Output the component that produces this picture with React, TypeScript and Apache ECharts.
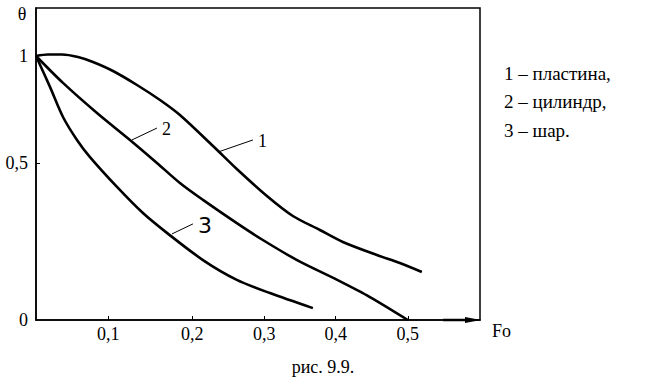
import { useEffect, useRef } from "react";
import * as echarts from "echarts";

// Curve 1 – plate
const foPlate = [0, 0.0161, 0.035, 0.0565, 0.0766, 0.1035, 0.1358, 0.1667, 0.1935, 0.238, 0.27, 0.3105, 0.3454, 0.3817, 0.4126, 0.4583, 0.4892, 0.5188];
const thetaPlate = [1, 1.0057, 1.0057, 0.9962, 0.9773, 0.9432, 0.8902, 0.8333, 0.7765, 0.6591, 0.572, 0.4697, 0.3939, 0.3409, 0.2955, 0.2462, 0.2159, 0.1818];
// Curve 2 – cylinder
const foCyl = [0, 0.0363, 0.082, 0.1263, 0.1626, 0.1935, 0.2245, 0.27, 0.305, 0.351, 0.405, 0.449, 0.5];
const thetaCyl = [1, 0.898, 0.784, 0.682, 0.595, 0.519, 0.455, 0.367, 0.303, 0.227, 0.152, 0.087, 0];
// Curve 3 – sphere
const foSph = [0, 0.0188, 0.0363, 0.0551, 0.0726, 0.1089, 0.1438, 0.176, 0.2245, 0.27, 0.3145, 0.3723];
const thetaSph = [1, 0.883, 0.769, 0.682, 0.617, 0.504, 0.405, 0.33, 0.227, 0.152, 0.102, 0.045];

// Axis ticks (axis values where the ticks sit) and their labels
const xTickValues = [0.0972, 0.21, 0.307, 0.403, 0.5];
const xTickLabels = ["0,1", "0,2", "0,3", "0,4", "0,5"];
const yTickValues = [0, 0.595, 1];
const yTickLabels = ["0", "0,5", "1"];

// Curve annotations: leader start, leader end, label
const curveLabels = ["1", "2", "3"];
const leaderFrom = [[0.2446, 0.636], [0.129, 0.682], [0.1828, 0.326]];
const leaderTo = [[0.2917, 0.682], [0.1626, 0.727], [0.211, 0.364]];

const legendLines = ["1 – пластина,", "2 – цилиндр,", "3 – шар."];
const caption = "рис. 9.9.";

const SERIF = "Liberation Serif";
const SANS = "DejaVu Sans";

function pairs(xs: number[], ys: number[]) {
  return xs.map((x, i) => [x, ys[i]]);
}

function pickLabel(v: number, vals: number[], labels: string[]) {
  let best = 0;
  for (let i = 1; i < vals.length; i++) {
    if (Math.abs(vals[i] - v) < Math.abs(vals[best] - v)) best = i;
  }
  return labels[best];
}

function txt(x: number, y: number, text: string, family: string, size: number, align = "left") {
  return {
    type: "text",
    x,
    y,
    style: {
      text,
      fill: "#000",
      fontFamily: family,
      fontSize: size,
      textAlign: align,
      textVerticalAlign: "middle",
    },
  };
}

export default function App() {
  const ref = useRef<HTMLDivElement>(null);
  useEffect(() => {
    if (!ref.current) return;
    document.body.style.margin = "0";
    const chart = echarts.init(ref.current, null, { renderer: "svg" });
    const lineSeries = (name: string, data: number[][]) => ({
      name,
      type: "line",
      data,
      smooth: 0.3,
      symbol: "none",
      lineStyle: { color: "#000", width: 2.6 },
    });
    chart.setOption({
      animation: false,
      backgroundColor: "#fff",
      grid: {
        left: 36,
        right: 169,
        top: 8,
        bottom: 66,
        show: true,
        borderColor: "#000",
        borderWidth: 1.5,
      },
      xAxis: {
        type: "value",
        min: 0,
        max: 0.597,
        axisLine: { show: true, lineStyle: { color: "#000", width: 1.5 } },
        axisTick: {
          show: true,
          inside: true,
          length: 4,
          customValues: xTickValues,
          lineStyle: { color: "#000", width: 1 },
        },
        axisLabel: {
          customValues: xTickValues,
          formatter: (v: number) => pickLabel(v, xTickValues, xTickLabels),
          color: "#000",
          fontFamily: SERIF,
          fontSize: 18,
          margin: 5,
        },
        splitLine: { show: false },
      },
      yAxis: {
        type: "value",
        min: 0,
        max: 1.1818,
        axisLine: { show: true, lineStyle: { color: "#000", width: 1.5 } },
        axisTick: {
          show: true,
          inside: true,
          length: 4,
          customValues: [yTickValues[1]],
          lineStyle: { color: "#000", width: 1 },
        },
        axisLabel: {
          customValues: yTickValues,
          formatter: (v: number) => pickLabel(v, yTickValues, yTickLabels),
          color: "#000",
          fontFamily: SERIF,
          fontSize: 18,
          margin: 8,
        },
        splitLine: { show: false },
      },
      series: [
        lineSeries("1", pairs(foPlate, thetaPlate)),
        lineSeries("2", pairs(foCyl, thetaCyl)),
        lineSeries("3", pairs(foSph, thetaSph)),
      ],
    });

    const graphics: any[] = [];
    curveLabels.forEach((lab, i) => {
      const a = chart.convertToPixel({ gridIndex: 0 }, leaderFrom[i]) as number[];
      const b = chart.convertToPixel({ gridIndex: 0 }, leaderTo[i]) as number[];
      graphics.push({
        type: "line",
        shape: { x1: a[0], y1: a[1], x2: b[0], y2: b[1] },
        style: { stroke: "#000", lineWidth: 1 },
      });
      const isSans = i === 2;
      graphics.push(
        txt(b[0] + 5, b[1] + (isSans ? 2 : 1), lab, isSans ? SANS : SERIF, isSans ? 22 : 18)
      );
    });
    // Arrow on the Fo axis
    graphics.push({
      type: "polyline",
      shape: { points: [[443, 320], [470, 320]] },
      style: { stroke: "#000", lineWidth: 2.5 },
    });
    graphics.push({
      type: "polygon",
      shape: { points: [[465, 317], [481, 320], [465, 323]] },
      style: { fill: "#000" },
    });
    graphics.push(txt(492, 331, "Fo", SERIF, 18));
    graphics.push(txt(22, 14, "θ", SERIF, 18, "center"));
    legendLines.forEach((t, i) => {
      graphics.push(txt(504, 73 + i * 28.5, t, SERIF, 19));
    });
    graphics.push(txt(323, 367, caption, SERIF, 18, "center"));
    chart.setOption({ graphic: graphics });

    return () => chart.dispose();
  }, []);
  return <div ref={ref} style={{ width: 649, height: 386 }} />;
}
